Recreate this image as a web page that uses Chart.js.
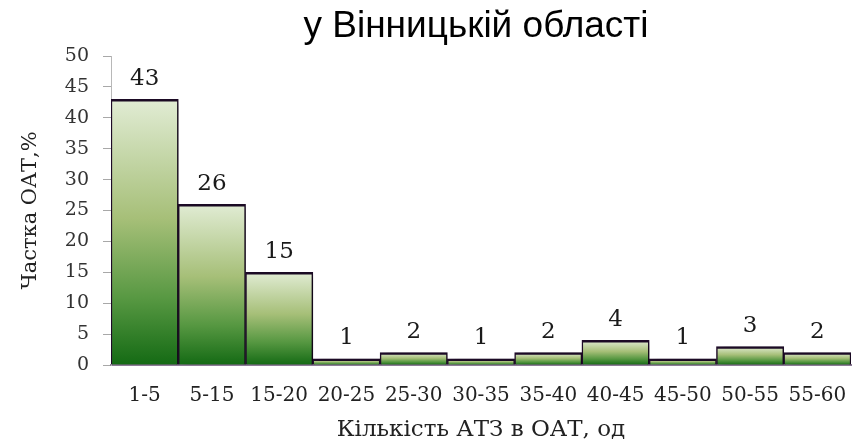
<!DOCTYPE html>
<html lang="uk">
<head>
<meta charset="UTF-8">
<title>Частка ОАТ у Вінницькій області</title>
<script src="https://cdn.jsdelivr.net/npm/chart.js"></script>
<style>
    html, body { margin: 0; padding: 0; background: #fff; }
    .wrap { width: 852px; height: 444px; }
</style>
</head>
<body>
<div class="wrap"><canvas id="chart" width="852" height="444"></canvas></div>
<script>
const categories = ['1-5', '5-15', '15-20', '20-25', '25-30', '30-35', '35-40', '40-45', '45-50', '50-55', '55-60'];
const shares = [43, 26, 15, 1, 2, 1, 2, 4, 1, 3, 2];
const yMin = 0;
const yMax = 50;
const yStep = 5;

const serif = 'DejaVu Serif';

// per-bar vertical gradient, light on top, dark green at the base
function barGradient(ctx) {
    const chart = ctx.chart;
    if (!chart.chartArea || ctx.type !== 'data') return '#9dba6d';
    const y = chart.scales.y;
    const top = y.getPixelForValue(ctx.raw);
    const bottom = y.getPixelForValue(0);
    const g = chart.ctx.createLinearGradient(0, top, 0, bottom);
    g.addColorStop(0, '#e1ecd4');
    g.addColorStop(0.45, '#a6bf78');
    g.addColorStop(0.75, '#579842');
    g.addColorStop(1, '#146a14');
    return g;
}

// keep the title centred over the plot, not the whole canvas
const titleOverPlot = {
    id: 'titleOverPlot',
    afterLayout(chart) {
        if (chart.titleBlock) {
            chart.titleBlock.left = chart.chartArea.left - 10;
            chart.titleBlock.right = chart.chartArea.right;
        }
    }
};

// soft shadow behind bars + value labels on top
const barDecor = {
    id: 'barDecor',
    beforeDatasetsDraw(chart) {
        const c = chart.ctx;
        c.save();
        c.shadowColor = 'rgba(0,0,0,0.45)';
        c.shadowBlur = 8;
        c.shadowOffsetX = 5;
        c.shadowOffsetY = 2;
    },
    afterDatasetsDraw(chart) {
        const c = chart.ctx;
        c.restore();
        c.save();
        c.font = '23px "' + serif + '"';
        c.fillStyle = '#1a1a1a';
        c.textAlign = 'center';
        c.textBaseline = 'bottom';
        chart.getDatasetMeta(0).data.forEach((bar, i) => {
            c.fillText(String(shares[i]), bar.x, bar.y - 9);
        });
        c.restore();
    }
};

new Chart(document.getElementById('chart'), {
    type: 'bar',
    data: {
        labels: categories,
        datasets: [{
            data: shares,
            backgroundColor: barGradient,
            borderColor: '#1e0b28',
            borderWidth: { top: 2.5, left: 1.5, right: 1.5, bottom: 0 },
            borderSkipped: false,
            barPercentage: 1,
            categoryPercentage: 1
        }]
    },
    options: {
        responsive: false,
        animation: false,
        layout: { padding: { right: 1 } },
        plugins: {
            legend: { display: false },
            tooltip: { enabled: false },
            title: {
                display: true,
                text: 'у Вінницькій області',
                color: '#000',
                font: { family: 'Liberation Sans', size: 37, weight: 'normal' },
                padding: { top: 5, bottom: 6.6 }
            }
        },
        scales: {
            x: {
                // invisible tick marks push the labels down without adding side padding
                grid: { display: true, drawOnChartArea: false, drawTicks: true, tickLength: 17, tickColor: 'rgba(0,0,0,0)' },
                border: { display: true, color: '#8c7b96', width: 2 },
                ticks: {
                    color: '#222',
                    font: { family: serif, size: 20 },
                    padding: 2,
                    maxRotation: 0,
                    autoSkip: false
                },
                title: {
                    display: true,
                    text: 'Кількість АТЗ в ОАТ, од',
                    color: '#222',
                    font: { family: serif, size: 23 },
                    padding: { top: 0, bottom: 0 }
                },
                afterFit(scale) { scale.height = 79; }
            },
            y: {
                min: yMin,
                max: yMax,
                grid: { drawOnChartArea: false, drawTicks: true, tickLength: 8, color: '#a8a8a8' },
                border: { display: true, color: '#b8b8b8', width: 1 },
                ticks: {
                    stepSize: yStep,
                    color: '#333',
                    font: { family: serif, size: 19 },
                    padding: 14
                },
                title: {
                    display: true,
                    text: 'Частка ОАТ,%',
                    color: '#222',
                    font: { family: serif, size: 21 },
                    padding: { top: 18, bottom: 0 }
                },
                afterFit(scale) { scale.width = 111; }
            }
        }
    },
    plugins: [titleOverPlot, barDecor]
});
</script>
</body>
</html>
